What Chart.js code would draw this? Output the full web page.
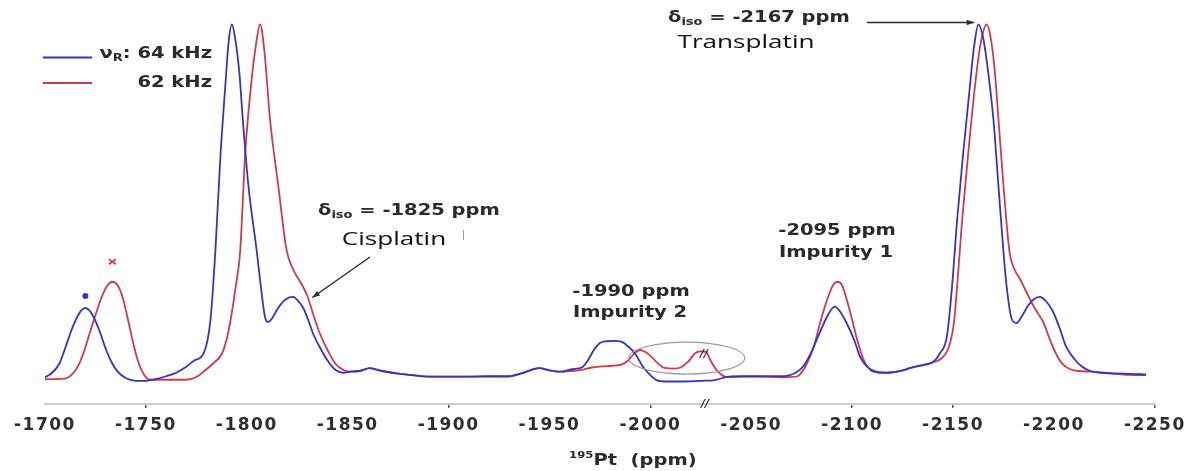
<!DOCTYPE html>
<html>
<head>
<meta charset="utf-8">
<script src="https://cdn.jsdelivr.net/npm/chart.js@4.4.1/dist/chart.umd.min.js"></script>
<style>
  html, body { margin: 0; padding: 0; background: #fff; }
  #wrap { width: 1189px; height: 471px; }
</style>
</head>
<body>
<div id="wrap"><canvas id="spec"></canvas></div>
<script>
// 195Pt MAS spectra, chemical shift (ppm) vs intensity (peak = ~100)
const blueShift = [-1699, -1703, -1707, -1710, -1713, -1716, -1718, -1720, -1722, -1724, -1727, -1730, -1733, -1736, -1740,
  -1745, -1750, -1755, -1760, -1765, -1770, -1774, -1778.6, -1782, -1784.4, -1787, -1789.3, -1791, -1792.6, -1794.5,
  -1796.5, -1798, -1800.8, -1805, -1807, -1809, -1810.5, -1812.5, -1815, -1818, -1821, -1823, -1825.5, -1828, -1830.5,
  -1833, -1836, -1840, -1844, -1848, -1851, -1856, -1861, -1867, -1874, -1882, -1890, -1900, -1910, -1920, -1930,
  -1936, -1945, -1950, -1956, -1961, -1966, -1969, -1972, -1975, -1978, -1982, -1985.6, -1989, -1992.4, -1996, -1999,
  -2003, -2008, -2015, -2025, -2032, -2038, -2045, -2055, -2065, -2072, -2076, -2079.5, -2084.5, -2088, -2091.4, -2094,
  -2097, -2101, -2104, -2107.5, -2112, -2118, -2124, -2129, -2136, -2140, -2143.5, -2147, -2149.5, -2152, -2155,
  -2158.3, -2160.5, -2162.6, -2165, -2167.5, -2170, -2172.5, -2175, -2176.6, -2179, -2181.5, -2184, -2187, -2190,
  -2193, -2196, -2199.5, -2203, -2206, -2210, -2214, -2218, -2224, -2230, -2238, -2245.6];
const blueInt = [0, 1.2, 4, 8.5, 13.5, 17.5, 19.3, 20, 19.3, 17.5, 13.5, 8.5, 4.5, 1.8, 0,
  -0.8, -0.8, -0.3, 0.5, 1.5, 3.2, 5, 7, 16.6, 36, 64, 83, 96, 101, 96,
  86, 74, 55, 36, 26, 17.5, 16, 17, 19.5, 21.8, 23, 23.2, 22, 20, 16.5,
  12.5, 9, 5, 2.3, 1.5, 1.8, 2, 2.8, 2, 1.3, 0.8, 0.4, 0.4, 0.4, 0.5, 0.5,
  1.3, 2.8, 2.2, 1.8, 2.5, 3, 5, 8, 10, 10.5, 10.6, 10.4, 9, 7, 3.5, 1.4,
  -0.6, -1, -1, -0.8, -0.6, 0.3, 0.5, 0.5, 0.5, 1.5, 3.5, 7, 13.7, 18, 20.4, 19,
  16, 10.9, 6, 3.2, 1.8, 1.5, 2, 2.9, 3.8, 4.5, 7, 12, 26, 45, 64,
  83, 95, 101, 97, 87, 74, 55, 36, 26, 17, 15.7, 17.5, 20.5, 22.5,
  23.2, 22, 19, 14, 9, 5.5, 3.2, 2, 1.5, 1.3, 1.2, 1];

const redShift = [-1699, -1705, -1710, -1713, -1716, -1719, -1722, -1725, -1728, -1731, -1733.4, -1736, -1738.5, -1741,
  -1743.5, -1746, -1749, -1752, -1760, -1770, -1775, -1779, -1783, -1787.7, -1790, -1792, -1794.5, -1796.7, -1799.2,
  -1802, -1804.5, -1806.6, -1808.8, -1811.5, -1815.6, -1819.7, -1823, -1827, -1830, -1833, -1836, -1840, -1844, -1848,
  -1851, -1856, -1861, -1867, -1874, -1882, -1890, -1900, -1910, -1920, -1930, -1936, -1945, -1950, -1956, -1961,
  -1966, -1971, -1976, -1981, -1985.6, -1989, -1992, -1994.9, -1998, -2001, -2004, -2007, -2012, -2015, -2019, -2022,
  -2025, -2027.5, -2030, -2033.5, -2038, -2045, -2055, -2065, -2070, -2073, -2077, -2081, -2084.5, -2088, -2090.5,
  -2092.7, -2095, -2098, -2100.5, -2102.5, -2105.5, -2109, -2113, -2118, -2124, -2129, -2136, -2140, -2144, -2148,
  -2150.5, -2152, -2154.5, -2157.5, -2160.8, -2163.5, -2166.7, -2169, -2170.8, -2172.5, -2175, -2178, -2180.5, -2183,
  -2186, -2189, -2192, -2194.7, -2198, -2201, -2204, -2208, -2212, -2218, -2224, -2230, -2238, -2245.6];
const redInt = [-0.3, -0.3, -0.2, 0.8, 3, 7, 12.5, 18, 23, 26.5, 27.5, 26.5, 23, 17,
  10.5, 5, 1, -0.5, -0.5, -0.5, 0.3, 2, 4, 7, 11, 16.6, 26, 36, 64,
  83, 95, 101, 93, 74, 55, 36.6, 31, 27, 23.5, 18, 13, 8, 4, 2.3,
  1.8, 2, 2.8, 2, 1.3, 0.8, 0.4, 0.4, 0.4, 0.4, 0.4, 1.3, 2.8, 2.2, 1.8, 2,
  2.3, 3, 3.3, 3.5, 3.8, 5, 7, 8, 7.3, 5.8, 4, 2.9, 2.7, 3, 4.8, 7,
  7.6, 7.5, 4.8, 1.8, 0.3, 0.4, 0.4, 0.2, 0.3, 0.5, 3.5, 9, 16.6, 23, 26.5,
  27.5, 26.5, 21, 15.5, 10.9, 5.5, 2.3, 1.5, 1.5, 2, 2.9, 3.8, 4.5, 5.5, 9,
  16, 26, 45, 64, 83, 95, 101, 96, 87, 74, 55, 36, 31, 28.5,
  25, 21.5, 18.5, 16, 11, 7, 4.2, 2.5, 2, 1.8, 1.5, 1.2, 0.9, 0.8];

const seriesNames = ['64 kHz', '62 kHz'];
const tickMarks = [-1750, -1900, -2000, -2100, -2150, -2250];

const BLUE = '#3434c4';
const RED = '#d23a4a';
const INK = '#2a2a2a';
const FONT = "'DejaVu Sans', sans-serif";
const SX = 1.3; // the lettering in the figure is stretched sideways

const toPoints = (xs, ys) => xs.map((x, i) => ({ x, y: ys[i] }));

// draw a row of text runs [text, font, dy], stretched horizontally
function textRuns(ctx, parts, x, y, align, sx = SX) {
  let w = 0;
  parts.forEach(p => { ctx.font = p[1]; w += ctx.measureText(p[0]).width * sx; });
  let cx = align === 'center' ? x - w / 2 : align === 'right' ? x - w : x;
  ctx.save();
  ctx.textBaseline = 'middle';
  ctx.textAlign = 'left';
  parts.forEach(p => {
    ctx.font = p[1];
    ctx.save();
    ctx.translate(cx, y + (p[2] || 0));
    ctx.scale(sx, 1);
    ctx.fillText(p[0], 0, 0);
    ctx.restore();
    cx += ctx.measureText(p[0]).width * sx;
  });
  ctx.restore();
}

function arrow(ctx, x1, y1, x2, y2) {
  const a = Math.atan2(y2 - y1, x2 - x1);
  ctx.beginPath();
  ctx.moveTo(x1, y1);
  ctx.lineTo(x2, y2);
  ctx.stroke();
  ctx.beginPath();
  ctx.moveTo(x2, y2);
  ctx.lineTo(x2 - 8 * Math.cos(a - 0.35), y2 - 8 * Math.sin(a - 0.35));
  ctx.lineTo(x2 - 8 * Math.cos(a + 0.35), y2 - 8 * Math.sin(a + 0.35));
  ctx.closePath();
  ctx.fill();
}

const spacing = {
  id: 'spacing',
  beforeDraw(chart) { chart.ctx.letterSpacing = '1.5px'; },
  beforeDatasetsDraw(chart) { chart.ctx.letterSpacing = '0px'; }
};

const notes = {
  id: 'notes',
  afterDraw(chart) {
    const ctx = chart.ctx;
    const xs = chart.scales.x, ys = chart.scales.y;
    const f = s => `bold ${s}px ${FONT}`;
    const serif = "18px 'Open Sans', sans-serif";
    ctx.save();
    ctx.letterSpacing = '0px';
    ctx.fillStyle = INK;

    // legend
    ctx.lineWidth = 2;
    ctx.strokeStyle = BLUE;
    ctx.beginPath(); ctx.moveTo(43, 57.5); ctx.lineTo(92, 57.5); ctx.stroke();
    ctx.strokeStyle = RED;
    ctx.beginPath(); ctx.moveTo(43, 83); ctx.lineTo(92, 83); ctx.stroke();
    textRuns(ctx, [['ν', f(15)], ['R', f(10), 4], [': ' + seriesNames[0], f(15)]], 212, 54, 'right');
    textRuns(ctx, [[seriesNames[1], f(15)]], 212, 83, 'right');

    // peak markers on the small side peaks
    ctx.fillStyle = BLUE;
    ctx.beginPath(); ctx.arc(xs.getPixelForValue(-1720), ys.getPixelForValue(20) - 12, 3, 0, Math.PI * 2); ctx.fill();
    ctx.strokeStyle = RED;
    ctx.lineWidth = 1.6;
    const rx = xs.getPixelForValue(-1733.4), ry = ys.getPixelForValue(27.5) - 20;
    ctx.beginPath();
    ctx.moveTo(rx - 3.5, ry - 2.5); ctx.lineTo(rx + 3.5, ry + 2.5);
    ctx.moveTo(rx + 3.5, ry - 2.5); ctx.lineTo(rx - 3.5, ry + 2.5);
    ctx.stroke();

    ctx.fillStyle = INK;
    ctx.strokeStyle = INK;
    ctx.lineWidth = 1.4;

    // cisplatin
    textRuns(ctx, [['δ', f(15)], ['iso', f(10), 4], [' = -1825 ppm', f(15)]], 318, 211, 'left');
    ctx.fillStyle = '#111';
    textRuns(ctx, [['Cisplatin', serif]], 394, 240, 'center', 1.45);
    ctx.fillStyle = INK;
    arrow(ctx, 370, 257, xs.getPixelForValue(-1832.5), ys.getPixelForValue(23));
    ctx.strokeStyle = '#999';
    ctx.lineWidth = 1;
    ctx.beginPath(); ctx.moveTo(463.5, 230); ctx.lineTo(463.5, 240); ctx.stroke();

    // impurity 2
    textRuns(ctx, [['-1990 ppm', f(15)]], 631, 292, 'center');
    textRuns(ctx, [['Impurity 2', f(15)]], 630, 313, 'center');
    ctx.strokeStyle = '#9a9a9a';
    ctx.lineWidth = 1.2;
    ctx.beginPath();
    ctx.ellipse(xs.getPixelForValue(-2018), ys.getPixelForValue(5.7), 58, 16, 0, 0, Math.PI * 2);
    ctx.stroke();
    ctx.font = `italic bold 11px ${FONT}`;
    ctx.textAlign = 'center';
    ctx.textBaseline = 'middle';
    ctx.fillText('//', 704, 354);
    ctx.fillText('//', 705, 404);

    // impurity 1
    textRuns(ctx, [['-2095 ppm', f(15)]], 837, 231, 'center');
    textRuns(ctx, [['Impurity 1', f(15)]], 836, 253, 'center');

    // transplatin
    textRuns(ctx, [['δ', f(15)], ['iso', f(10), 4], [' = -2167 ppm', f(15)]], 668, 18, 'left');
    ctx.fillStyle = '#111';
    textRuns(ctx, [['Transplatin', serif]], 746, 43, 'center', 1.45);
    ctx.fillStyle = INK;
    ctx.strokeStyle = INK;
    ctx.lineWidth = 1.4;
    arrow(ctx, 867, 22.5, xs.getPixelForValue(-2160.5), 22.5);

    // axis title
    textRuns(ctx, [['195', f(9), -5], ['Pt  (ppm)', f(15)]], 569, 461, 'left');
    ctx.restore();
  }
};

new Chart(document.getElementById('spec'), {
  type: 'line',
  data: {
    datasets: [
      {
        label: seriesNames[0],
        data: toPoints(blueShift, blueInt),
        borderColor: BLUE,
        borderWidth: 1.8,
        pointRadius: 0,
        cubicInterpolationMode: 'monotone',
        fill: false
      },
      {
        label: seriesNames[1],
        data: toPoints(redShift, redInt),
        borderColor: RED,
        borderWidth: 1.8,
        pointRadius: 0,
        cubicInterpolationMode: 'monotone',
        fill: false
      }
    ]
  },
  options: {
    responsive: true,
    maintainAspectRatio: false,
    animation: false,
    layout: { padding: { left: 45, right: 33, top: 10, bottom: 0 } },
    plugins: { legend: { display: false }, tooltip: { enabled: false } },
    scales: {
      x: {
        type: 'linear',
        reverse: true,
        min: -2250,
        max: -1700,
        afterFit: s => { s.height = 67; },
        ticks: {
          stepSize: 50,
          autoSkip: false,
          maxRotation: 0,
          padding: 7,
          color: '#2e2e2e',
          font: { family: FONT, size: 17, weight: 'bold' },
          callback: v => `${v}`
        },
        grid: {
          drawOnChartArea: false,
          drawTicks: true,
          tickLength: 4,
          lineWidth: 1.5,
          color: c => tickMarks.includes(c.tick && c.tick.value) ? '#555' : 'rgba(0,0,0,0)'
        },
        border: { display: true, color: '#cdcdcd', width: 2 }
      },
      y: { display: false, min: -7.43, max: 105.14 }
    }
  },
  plugins: [spacing, notes]
});
</script>
</body>
</html>
